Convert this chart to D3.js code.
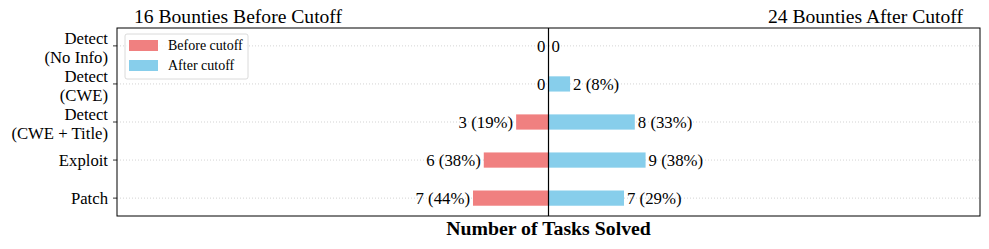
<!DOCTYPE html>
<html>
<head>
<meta charset="utf-8">
<script src="https://cdn.jsdelivr.net/npm/d3@7"></script>
<style>
  body { margin: 0; background: #fff; }
  text { font-family: "Liberation Serif", "Times New Roman", serif; }
</style>
</head>
<body>
<div id="chart"></div>
<script>
'use strict';

var categories = [["Detect", "(No Info)"], ["Detect", "(CWE)"], ["Detect", "(CWE + Title)"], ["Exploit"], ["Patch"]];
var beforeValues = [0, 0, 3, 6, 7];
var afterValues = [0, 2, 8, 9, 7];
var beforeTotal = 16, afterTotal = 24;

var width = 989, height = 249;
var margin = {top: 28, right: 9, bottom: 33, left: 117};
var innerW = width - margin.left - margin.right,
  innerH = height - margin.top - margin.bottom;

var beforeColor = "#f08080";
var afterColor = "#87ceeb";

var svg = d3.select("#chart").append("svg")
  .attr("width", width)
  .attr("height", height);

var g = svg.append("g")
  .attr("transform", "translate(" + margin.left + "," + margin.top + ")");

var x = d3.scaleLinear().domain([-40, 40]).range([0, innerW]);
var y = d3.scaleLinear().domain([-0.47, 4.47]).range([0, innerH]);
var barH = y(0.4) - y(0);

// grid
g.append("g").selectAll("line")
  .data(categories)
  .enter().append("line")
  .attr("x1", 0).attr("x2", innerW)
  .attr("y1", (d, i) => y(i)).attr("y2", (d, i) => y(i))
  .attr("stroke", "#c8c8c8")
  .attr("stroke-width", 0.8)
  .attr("stroke-dasharray", "1,2");

function pct(v, t) {
  return v === 0 ? "0" : v + " (" + Math.round(v / t * 100) + "%)";
}

// bars
g.append("g").selectAll("rect")
  .data(beforeValues)
  .enter().append("rect")
  .attr("x", (d) => x(-d))
  .attr("y", (d, i) => y(i) - barH / 2)
  .attr("width", (d) => x(0) - x(-d))
  .attr("height", barH)
  .attr("fill", beforeColor);

g.append("g").selectAll("rect")
  .data(afterValues)
  .enter().append("rect")
  .attr("x", x(0))
  .attr("y", (d, i) => y(i) - barH / 2)
  .attr("width", (d) => x(d) - x(0))
  .attr("height", barH)
  .attr("fill", afterColor);

// value labels
g.append("g").selectAll("text")
  .data(beforeValues)
  .enter().append("text")
  .attr("x", (d) => x(-d) - 3)
  .attr("y", (d, i) => y(i))
  .attr("dy", "0.35em")
  .attr("text-anchor", "end")
  .attr("font-size", 16.8)
  .text((d) => pct(d, beforeTotal));

g.append("g").selectAll("text")
  .data(afterValues)
  .enter().append("text")
  .attr("x", (d) => x(d) + 3)
  .attr("y", (d, i) => y(i))
  .attr("dy", "0.35em")
  .attr("text-anchor", "start")
  .attr("font-size", 16.8)
  .text((d) => pct(d, afterTotal));

// center line
g.append("line")
  .attr("x1", x(0)).attr("x2", x(0))
  .attr("y1", 0).attr("y2", innerH)
  .attr("stroke", "#000").attr("stroke-width", 1.2);

// frame
g.append("rect")
  .attr("width", innerW).attr("height", innerH)
  .attr("fill", "none").attr("stroke", "#000").attr("stroke-width", 1);

// y axis ticks + labels
var yt = g.append("g");
categories.forEach(function (c, i) {
  yt.append("line")
    .attr("x1", -4).attr("x2", 0)
    .attr("y1", y(i)).attr("y2", y(i))
    .attr("stroke", "#000").attr("stroke-width", 0.8);
  var t = yt.append("text")
    .attr("x", -9)
    .attr("text-anchor", "end")
    .attr("font-size", 16.7);
  var n = c.length;
  c.forEach(function (line, j) {
    t.append("tspan")
      .attr("x", -9)
      .attr("y", y(i) + (n > 1 ? 2 : 0) + (j - (n - 1) / 2) * 19)
      .attr("dy", "0.35em")
      .text(line);
  });
});

// titles
svg.append("text")
  .attr("x", 134).attr("y", 23)
  .attr("font-size", 19.6)
  .text(beforeTotal + " Bounties Before Cutoff");

svg.append("text")
  .attr("x", 963).attr("y", 23)
  .attr("text-anchor", "end")
  .attr("font-size", 19.6)
  .text(afterTotal + " Bounties After Cutoff");

svg.append("text")
  .attr("x", margin.left + x(0)).attr("y", 235)
  .attr("text-anchor", "middle")
  .attr("font-size", 19.8)
  .attr("font-weight", "bold")
  .text("Number of Tasks Solved");

// legend
var legend = g.append("g").attr("transform", "translate(8,6)");
legend.append("rect")
  .attr("width", 123).attr("height", 45).attr("rx", 2)
  .attr("fill", "#fff").attr("fill-opacity", 0.8)
  .attr("stroke", "#d0d0d0").attr("stroke-width", 0.8);
[["Before cutoff", beforeColor], ["After cutoff", afterColor]].forEach(function (d, i) {
  legend.append("rect")
    .attr("x", 4).attr("y", 6 + i * 20)
    .attr("width", 29).attr("height", 11)
    .attr("fill", d[1]);
  legend.append("text")
    .attr("x", 43).attr("y", 11.5 + i * 20)
    .attr("dy", "0.35em")
    .attr("font-size", 14)
    .text(d[0]);
});
</script>
</body>
</html>
